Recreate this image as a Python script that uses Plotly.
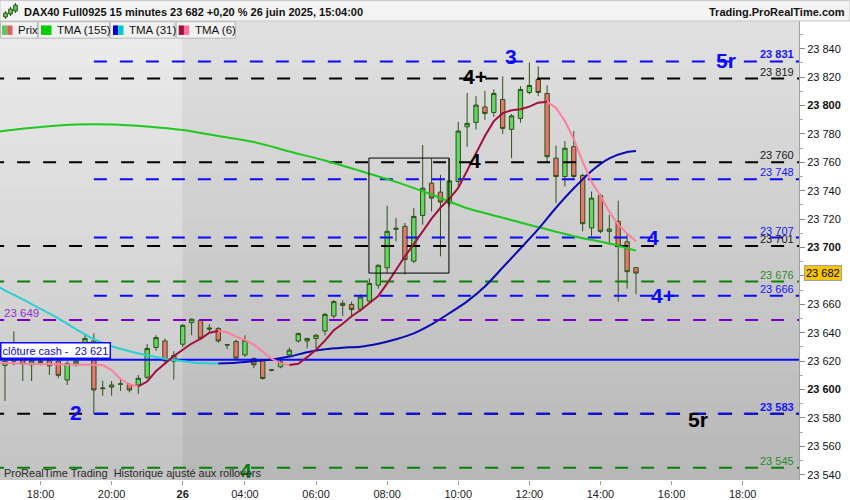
import plotly.graph_objects as go

# 15 min bars, index 0 = 25 juin 17:00, index 20 = start of the 26 juin session
bar_open = [23617, 23620, 23621, 23617.4, 23619, 23620.2, 23620, 23606.7, 23618, 23628.4,
            23634.2, 23600.6, 23601.7, 23604, 23603.4, 23603.2, 23608.6, 23629.6, 23634.2, 23620,
            23631.9, 23647.1, 23648.7, 23642.5, 23642.9, 23631.6, 23633.8, 23624.4, 23621.9, 23620.7,
            23613.9, 23616, 23624.4, 23634.2, 23634.2, 23635.9, 23641.2, 23651.8, 23660.7, 23659.9,
            23656.5, 23662.3, 23673.5, 23685.7, 23712.8, 23714.9, 23690.4, 23722.6, 23745.3, 23739,
            23731.3, 23746.5, 23785, 23788.1, 23799, 23795.1, 23804.2, 23783.2, 23790.9, 23809.2,
            23818.3, 23808.5, 23762.9, 23750, 23771, 23750.7, 23713.8, 23736.6, 23711.4, 23718.4,
            23704, 23685.8]
bar_high = [23625, 23641, 23621.5, 23621, 23622, 23621.5, 23621, 23620, 23621.5, 23638.2,
            23639.6, 23606.2, 23606, 23607.4, 23604.5, 23610.2, 23632, 23638.2, 23636, 23627,
            23646, 23650, 23649.5, 23646, 23644, 23632, 23635, 23638.2, 23622.5, 23621.5,
            23614.5, 23621, 23629.6, 23640, 23636.5, 23639, 23654, 23663, 23662.8, 23661.9,
            23667, 23678.2, 23688, 23729.4, 23720.8, 23717.3, 23727.8, 23772.2, 23762.9, 23751.2,
            23763, 23788.5, 23808.9, 23806.6, 23810.3, 23811.3, 23820.6, 23794, 23813.6, 23830.2,
            23827.6, 23814.3, 23771.7, 23775, 23782, 23752, 23739.4, 23738, 23723, 23733,
            23709.6, 23686]
bar_low = [23592, 23617, 23606, 23606, 23617, 23610.2, 23608, 23603.2, 23616, 23626,
           23583, 23595.6, 23595.6, 23599, 23598, 23597, 23607, 23627.2, 23618, 23607,
           23630, 23638.2, 23635, 23640, 23633, 23628.4, 23621, 23623, 23615, 23607,
           23612.8, 23615, 23623, 23633, 23629, 23628.9, 23638.2, 23650, 23651.8, 23651,
           23655, 23661, 23671, 23682.2, 23704.4, 23681, 23689, 23716.1, 23725.4, 23693.8,
           23729, 23743, 23771, 23783, 23790, 23792, 23780, 23762.9, 23787.8, 23808,
           23806.6, 23760.5, 23731.3, 23743, 23749, 23711.4, 23707.9, 23710, 23702, 23661.9,
           23671, 23667]
bar_close = [23620, 23624, 23618, 23620.2, 23620, 23616.7, 23610, 23618.4, 23620, 23635.9,
             23599.7, 23601, 23603.2, 23603.8, 23599.7, 23607.9, 23628.9, 23636.6, 23620.2, 23624,
             23645.2, 23649.5, 23636.1, 23643.2, 23634.2, 23631.4, 23622.1, 23634.7, 23617.4, 23607.8,
             23613.6, 23619.5, 23627.7, 23639.4, 23635.9, 23638.2, 23652.9, 23661.9, 23659.3, 23656.4,
             23665.1, 23674.7, 23687.5, 23711.4, 23713.5, 23691.5, 23721.9, 23741.8, 23734.8, 23732,
             23746.9, 23782, 23787.4, 23800.3, 23794.4, 23808.5, 23783.9, 23792.7, 23811.3, 23814.1,
             23809.2, 23764, 23750, 23769.9, 23750, 23716.8, 23734.8, 23711.4, 23713, 23700.9,
             23683, 23682]

# moving averages (bar index -> value)
tma155_idx = [-1, 0, 4, 8, 12, 16, 20, 24, 28, 32, 36, 40, 44, 48, 52, 56, 60, 64, 68, 71]
tma155_val = [23781.3, 23782.2, 23784.8, 23786.6, 23786.7, 23785.2, 23782.7, 23778.5, 23774.3, 23767.6,
              23761.3, 23753.9, 23746.2, 23737.3, 23727.7, 23721.0, 23714.3, 23708.0, 23702.8, 23697.8]

tma31_idx = [-1, 0, 2, 4, 6, 8, 10, 12, 14, 16, 18, 20, 22, 24, 26, 28, 30, 32, 34, 36, 38,
             40, 42, 44, 46, 48, 50, 52, 54, 56, 58, 60, 62, 64, 66, 68, 70, 71]
tma31_val = [23673.3, 23669.8, 23663.5, 23656.8, 23650.1, 23642.4, 23635.4, 23630.5, 23627.0, 23624.2,
             23621.7, 23620.0, 23618.6, 23618.4, 23618.9, 23620.0, 23621.2, 23623.2, 23626.3, 23628.4,
             23629.5, 23630.2, 23632.3, 23635.4, 23639.6, 23645.9, 23653.7, 23662.1, 23672.6, 23685.9,
             23699.3, 23712.9, 23728.0, 23741.7, 23753.9, 23762.7, 23767.3, 23768.0]

tma6_idx = list(range(-1, 72))
tma6_val = [23619.0, 23618.6, 23618.2, 23617.9, 23617.9, 23617.9, 23617.7, 23617.6, 23617.5, 23617.5,
            23617.5, 23617.4, 23617.2, 23613.7, 23607.4, 23603.5, 23602.3, 23605.6, 23613.0, 23618.2,
            23623.5, 23628.0, 23632.4, 23635.6, 23640.0, 23641.2, 23640.3, 23637.3, 23634.9, 23631.6,
            23626.4, 23621.7, 23618.6, 23617.2, 23618.2, 23622.8, 23628.0, 23634.4, 23641.7, 23646.3,
            23651.6, 23655.8, 23661.0, 23665.9, 23674.7, 23684.5, 23693.8, 23702.4, 23711.2, 23720.3,
            23728.0, 23734.3, 23742.0, 23754.0, 23765.9, 23778.5, 23789.0, 23794.6, 23796.7, 23797.4,
            23799.2, 23802.0, 23802.6, 23798.5, 23789.0, 23776.4, 23760.3, 23746.2, 23736.4, 23725.2,
            23716.1, 23709.8, 23704.4]

tick_idx = [4, 12, 20, 27, 35, 43, 51, 59, 67, 75, 83]
tick_txt = ['18:00', '20:00', '<b>26</b>', '04:00', '06:00', '08:00', '10:00', '12:00', '14:00', '16:00', '18:00']

# horizontal levels: price, colour, first bar (None = whole width), dashed, label on the right
level_price = [23831, 23819, 23760, 23748, 23707, 23701, 23676, 23666, 23649, 23621, 23583, 23583, 23545]
level_color = ['blue', 'black', 'black', 'blue', 'blue', 'black', 'green', 'blue', 'purple', 'blue', 'black', 'blue', 'green']
level_from = [10, None, None, 10, 10, None, None, 10, None, None, None, 10, None]
level_dash = [True, True, True, True, True, True, True, True, True, False, True, True, True]
level_label = [True, True, True, True, True, True, True, True, False, False, False, True, True]

# wave counts written on the chart: text, colour, bar, price
wave_text = ['4+', '3', '5r', '4', '4', '4+', '2', '5r', '4']
wave_color = ['black', 'blue', 'blue', 'black', 'blue', 'blue', 'blue', 'black', 'green']
wave_bar = [52.9, 56.9, 81.1, 52.9, 72.9, 74.0, 8.0, 78.0, 27.1]
wave_price = [23820.5, 23834.5, 23831.5, 23761.5, 23706.8, 23666, 23584, 23579, 23543]

# zone drawn by hand on the chart (bars, prices)
zone_bars = [40.95, 49.95]
zone_prices = [23682, 23763]
session_start = 20
last_price = 23682
cash_close = 23621

colors = {'blue': '#0a0aff', 'black': '#000000', 'green': '#0a800a', 'purple': '#7a00c8'}
text_colors = {'blue': '#1515ff', 'black': '#1a1a1a', 'green': '#2a8a2a', 'purple': '#9030d0'}

X_RANGE = [-0.56, 89.34]
Y_RANGE = [23536.3, 23859.5]
FONT = 'Liberation Sans, Arial, sans-serif'
W, H = 850, 500
ML, MR, MT, MB = 0, 51, 21, 17
PW, PH = W - ML - MR, H - MT - MB


def px(x):
    return (x - ML) / PW


def py(y):
    return (H - MB - y) / PH


def split_by_slope(xs, ys, up_color, down_color):
    runs = []
    cur = None
    for k in range(len(xs) - 1):
        c = up_color if ys[k + 1] > ys[k] else down_color
        if cur is None or c != cur[0]:
            cur = [c, [xs[k]], [ys[k]]]
            runs.append(cur)
        cur[1].append(xs[k + 1])
        cur[2].append(ys[k + 1])
    return runs


fig = go.Figure()

# level lines (behind the candles)
for p, c, start, dashed in zip(level_price, level_color, level_from, level_dash):
    x0 = X_RANGE[0] - 1 if start is None else start
    fig.add_trace(go.Scatter(x=[x0, X_RANGE[1] + 1], y=[p, p], mode='lines',
                             line=dict(color=colors[c], width=2, dash='13px,13px' if dashed else 'solid'),
                             hoverinfo='skip', showlegend=False))

fig.add_trace(go.Candlestick(
    x=list(range(len(bar_open))), open=bar_open, high=bar_high, low=bar_low, close=bar_close,
    increasing=dict(fillcolor='#62d862', line=dict(color='#2c5216', width=1)),
    decreasing=dict(fillcolor='#e8756e', line=dict(color='#2c5216', width=1)),
    whiskerwidth=0, hoverinfo='skip', showlegend=False))

fig.add_trace(go.Scatter(x=tma155_idx, y=tma155_val, mode='lines',
                         line=dict(color='#1ec81e', width=2, shape='spline', smoothing=0.8),
                         hoverinfo='skip', showlegend=False))
for c, xs, ys in split_by_slope(tma31_idx, tma31_val, '#0a0ab4', '#2ccfd2'):
    fig.add_trace(go.Scatter(x=xs, y=ys, mode='lines', line=dict(color=c, width=2, shape='spline', smoothing=0.8),
                             hoverinfo='skip', showlegend=False))
for c, xs, ys in split_by_slope(tma6_idx, tma6_val, '#a3103e', '#ff7f9f'):
    fig.add_trace(go.Scatter(x=xs, y=ys, mode='lines', line=dict(color=c, width=2),
                             hoverinfo='skip', showlegend=False))

shapes = []
# gray gradient background, a bit lighter before the session start
n_bands = 30
for k in range(n_bands):
    t = (k + 0.5) / n_bands
    left = int(round(0xc3 + (0xec - 0xc3) * t))
    right = int(round(0xb7 + (0xe1 - 0xb7) * t))
    for x0, x1, g in [(X_RANGE[0], session_start, left), (session_start, X_RANGE[1], right)]:
        shapes.append(dict(type='rect', xref='x', yref='paper', x0=x0, x1=x1,
                           y0=k / n_bands, y1=(k + 1) / n_bands + 0.002,
                           fillcolor='rgb(%d,%d,%d)' % (g, g, g), line=dict(width=0), layer='below'))

shapes.append(dict(type='rect', xref='x', yref='y', x0=zone_bars[0], x1=zone_bars[1],
                   y0=zone_prices[0], y1=zone_prices[1], line=dict(color='black', width=1)))

# header bar
shapes.append(dict(type='rect', xref='paper', yref='paper', x0=px(0), x1=px(W), y0=py(21), y1=py(0.5),
                   fillcolor='#f4f4f4', line=dict(color='#c4c4c4', width=1)))
# header candle icon
for cx, b0, b1, w0, w1 in [(5.5, 13, 17, 11, 19), (10.5, 9, 14, 7, 16), (15.5, 5, 11, 3, 13)]:
    shapes.append(dict(type='line', xref='paper', yref='paper', x0=px(cx), x1=px(cx), y0=py(w1), y1=py(w0),
                       line=dict(color='#2c5216', width=1)))
    shapes.append(dict(type='rect', xref='paper', yref='paper', x0=px(cx - 1.8), x1=px(cx + 1.8),
                       y0=py(b1), y1=py(b0), fillcolor='#5cc85c', line=dict(color='#2c5216', width=1)))

# legend boxes
legend_boxes = [(0, 37.3, 'Prix', ['#5cc85c', '#e06060'], 2, 16),
                (37.7, 109.3, 'TMA (155)', ['#00cc00'], 41, 55),
                (109.7, 175, 'TMA (31)', ['#0000cc', '#00cccc'], 113, 127),
                (175.7, 235.3, 'TMA (6)', ['#a0103c', '#ff6f9a'], 178.7, 193)]
annotations = []
for x0, x1, label, sw, sx, tx in legend_boxes:
    shapes.append(dict(type='rect', xref='paper', yref='paper', x0=px(x0 + 0.5), x1=px(x1), y0=py(38.3), y1=py(21.7),
                       fillcolor='#f0f0f0', line=dict(color='#b8b8b8', width=1)))
    step = 10.5 / len(sw)
    for j, col in enumerate(sw):
        shapes.append(dict(type='rect', xref='paper', yref='paper', x0=px(sx + j * step), x1=px(sx + (j + 1) * step),
                           y0=py(35), y1=py(25.5), fillcolor=col, line=dict(width=0)))
    annotations.append(dict(xref='paper', yref='paper', x=px(tx), y=py(30), text=label, showarrow=False,
                            xanchor='left', yanchor='middle', font=dict(size=11.5, color='#111')))

annotations.append(dict(xref='paper', yref='paper', x=px(22), y=py(11.5), showarrow=False, xanchor='left', yanchor='middle',
                        text='<b>DAX40 Full0925 15 minutes 23 682 +0,20 % 26 juin 2025, 15:04:00</b>',
                        font=dict(size=11, color='#111')))
annotations.append(dict(xref='paper', yref='paper', x=px(847), y=py(11.5), showarrow=False, xanchor='right', yanchor='middle',
                        text='<b>Trading.ProRealTime.com</b>', font=dict(size=11, color='#111')))

# level labels
for p, c, show in zip(level_price, level_color, level_label):
    if not show:
        continue
    txt = '{:,}'.format(p).replace(',', ' ')
    if p in (23831, 23583):
        txt = '<b>' + txt + '</b>'
    annotations.append(dict(xref='paper', yref='y', x=1, y=p, xanchor='right', yanchor='bottom', xshift=-3, yshift=-1,
                            text=txt, showarrow=False, font=dict(size=11, color=text_colors[c])))
annotations.append(dict(xref='paper', yref='y', x=0, y=23649, xanchor='left', yanchor='bottom', xshift=2, yshift=-1,
                        text='23 649', showarrow=False, font=dict(size=11.5, color=text_colors['purple'])))
annotations.append(dict(xref='paper', yref='y', x=0, y=cash_close, xanchor='left', yanchor='bottom', yshift=1,
                        text='clôture cash -  ' + '{:,}'.format(cash_close).replace(',', ' '), showarrow=False,
                        font=dict(size=11, color='#0a0ad0'), bgcolor='white', bordercolor='#0a0aff',
                        borderwidth=1.5, borderpad=1))

for t, c, b, p in zip(wave_text, wave_color, wave_bar, wave_price):
    annotations.append(dict(xref='x', yref='y', x=b, y=p, text='<b>' + t + '</b>', showarrow=False,
                            font=dict(size=21, color=colors[c])))

annotations.append(dict(xref='paper', yref='paper', x=px(2), y=py(476), xanchor='left', yanchor='middle',
                        text='ProRealTime Trading  Historique ajusté aux rollovers', showarrow=False,
                        font=dict(size=11, color='#2a2a2a')))

# last price tag
annotations.append(dict(xref='paper', yref='y', x=1, y=last_price, xanchor='left', yanchor='middle', xshift=5,
                        text='{:,}'.format(last_price).replace(',', ' '), showarrow=False,
                        font=dict(size=11, color='black'), bgcolor='#f8c600', bordercolor='#a0a0a0',
                        borderwidth=1, borderpad=1))

y_ticks = list(range(23540, 23841, 20))
y_text = []
for v in y_ticks:
    s = '{:,}'.format(v).replace(',', ' ')
    if v == 23680:
        s = ''
    elif v % 100 == 0:
        s = '<b>' + s + '</b>'
    y_text.append(s)

fig.update_layout(
    width=W, height=H,
    margin=dict(l=ML, r=MR, t=MT, b=MB),
    paper_bgcolor='white', plot_bgcolor='#cccccc',
    font=dict(family=FONT, size=11, color='#111'),
    showlegend=False,
    boxgap=0.3,
    shapes=shapes,
    annotations=annotations,
    xaxis=dict(range=X_RANGE, showgrid=False, zeroline=False, rangeslider=dict(visible=False),
               tickmode='array', tickvals=tick_idx, ticktext=tick_txt, ticks='outside', ticklen=4,
               tickcolor='#999999', tickfont=dict(size=11, color='#222')),
    yaxis=dict(range=Y_RANGE, side='right', showgrid=False, zeroline=False, showline=True,
               linecolor='#a0a0a0', linewidth=1, tickmode='array', tickvals=y_ticks, ticktext=y_text,
               ticks='outside', ticklen=5, tickcolor='#888888', tickfont=dict(size=11, color='#111'),
               minor=dict(tickmode='linear', tick0=23530, dtick=10, ticks='outside', ticklen=3, tickcolor='#aaaaaa')),
)

# the page body has a default 8px margin; drop it so the figure fills the window
fig.write_html("out.html", config={'displayModeBar': False},
               post_script="document.body.style.margin='0px';document.body.style.overflow='hidden';")
